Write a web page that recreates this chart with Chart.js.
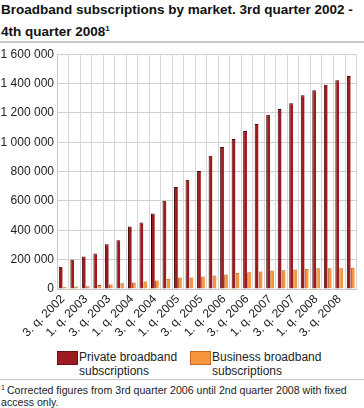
<!DOCTYPE html>
<html>
<head>
<meta charset="utf-8">
<script src="https://cdn.jsdelivr.net/npm/chart.js@4/dist/chart.umd.min.js"></script>
<style>
  body { margin: 0; width: 364px; height: 408px; overflow: hidden; background: #fff;
         font-family: "Liberation Sans", Arial, sans-serif; color: #222; position: relative; }
  #title { position: absolute; left: 1px; top: 0; font-weight: bold; font-size: 13.5px;
           line-height: 19px; color: #111; }
  #title sup { font-size: 8px; vertical-align: 5px; }
  .rule { position: absolute; left: 0; width: 364px; background: #c8c8c8; }
  #chartbox { position: absolute; left: 0; top: 44px; width: 364px; height: 299px; }
  .leg { position: absolute; top: 350px; font-size: 12px; line-height: 14px; }
  .leg span.box { position: absolute; left: 0; top: 1px; width: 19px; height: 12px; }
  .leg div { margin-left: 22px; }
  #note { position: absolute; left: 1px; top: 382px; font-size: 10.6px; line-height: 12px; }
  #note sup { font-size: 7px; vertical-align: 4px; margin-right: 2px; }
</style>
</head>
<body>
<div id="title">Broadband subscriptions by market. 3rd quarter 2002 -<br>4th quarter 2008<sup>1</sup></div>
<div class="rule" style="top:41px;height:2px"></div>
<div id="chartbox"><canvas id="chart"></canvas></div>
<div class="leg" style="left:57px"><span class="box" style="background:#9c1b20;border:1px solid #6a1015"></span><div>Private broadband<br>subscriptions</div></div>
<div class="leg" style="left:190px"><span class="box" style="background:#f7963e;border:1px solid #c26a24"></span><div>Business broadband<br>subscriptions</div></div>
<div class="rule" style="top:379px;height:1px"></div>
<div id="note"><sup>1</sup>Corrected figures from 3rd quarter 2006 until 2nd quarter 2008 with fixed<br>access only.</div>
<script>
const quarters = [
  '3. q. 2002', '4. q. 2002',
  '1. q. 2003', '2. q. 2003', '3. q. 2003', '4. q. 2003',
  '1. q. 2004', '2. q. 2004', '3. q. 2004', '4. q. 2004',
  '1. q. 2005', '2. q. 2005', '3. q. 2005', '4. q. 2005',
  '1. q. 2006', '2. q. 2006', '3. q. 2006', '4. q. 2006',
  '1. q. 2007', '2. q. 2007', '3. q. 2007', '4. q. 2007',
  '1. q. 2008', '2. q. 2008', '3. q. 2008', '4. q. 2008'
];
const privateSubs = [
  152000, 200000, 222000, 243000, 305000, 332000, 426000, 453000, 514000,
  602000, 695000, 745000, 805000, 908000, 967000, 1022000, 1076000, 1124000,
  1187000, 1227000, 1266000, 1320000, 1354000, 1392000, 1422000, 1451000
];
const businessSubs = [
  12000, 18000, 20000, 27000, 32000, 39000, 45000, 52000, 59000,
  70000, 79000, 79000, 86000, 93000, 100000, 111000, 115000, 120000,
  127000, 129000, 134000, 138000, 141000, 141000, 141000, 145000
];
const yTicks = [0, 200000, 400000, 600000, 800000, 1000000, 1200000, 1400000, 1600000];

const fmt = v => String(v).replace(/\B(?=(\d{3})+(?!\d))/g, ' ');

new Chart(document.getElementById('chart'), {
  type: 'bar',
  data: {
    labels: quarters,
    datasets: [{
      label: 'Private broadband subscriptions',
      data: privateSubs,
      backgroundColor: '#9c1b20',
      borderColor: '#3d0709',
      borderWidth: { left: 1, top: 1, right: 0, bottom: 0 },
      categoryPercentage: 0.7,
      barPercentage: 0.95
    }, {
      label: 'Business broadband subscriptions',
      data: businessSubs,
      backgroundColor: '#f7963e',
      borderColor: '#a8561a',
      borderWidth: { left: 1, top: 1, right: 0, bottom: 0 },
      categoryPercentage: 0.7,
      barPercentage: 0.95
    }]
  },
  options: {
    responsive: true,
    maintainAspectRatio: false,
    animation: false,
    layout: { padding: { top: 2, right: 2, left: 0, bottom: 0 } },
    plugins: { legend: { display: false }, tooltip: { enabled: false } },
    scales: {
      x: {
        grid: { color: '#d6d6d6', lineWidth: 1, drawTicks: false },
        border: { color: '#c8c8c8' },
        ticks: {
          autoSkip: false, maxRotation: 45, minRotation: 45, padding: 3,
          color: '#222', font: { family: 'Liberation Sans', size: 12 },
          callback: (v, i) => i % 2 === 0 ? quarters[i] : ''
        }
      },
      y: {
        min: 0, max: 1600000,
        afterBuildTicks: s => { s.ticks = yTicks.map(v => ({ value: v })); },
        afterFit: s => { s.width = 57; },
        grid: { color: '#d0d0d0', lineWidth: 1, drawTicks: false },
        border: { color: '#c8c8c8' },
        ticks: {
          padding: 3, color: '#222', font: { family: 'Liberation Sans', size: 12 },
          callback: v => fmt(v)
        }
      }
    }
  }
});
</script>
</body>
</html>
